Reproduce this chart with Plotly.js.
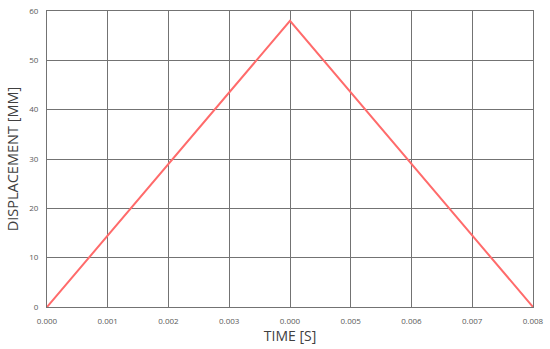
<!DOCTYPE html>
<html>
<head>
<meta charset="utf-8">
<script src="https://cdn.plot.ly/plotly-3.0.1.min.js"></script>
<style>
  html, body { margin: 0; padding: 0; background: white; }
  #chart { width: 550px; height: 349px; }
</style>
</head>
<body>
<div id="chart"></div>
<script>
// Data
const timeValues = [0, 0.004, 0.008];
const displacementValues = [0, 58, 0];

const xTickVals = [0, 0.001, 0.002, 0.003, 0.004, 0.005, 0.006, 0.007, 0.008];
const xTickText = ['0.000', '0.001', '0.002', '0.003', '0.000', '0.005', '0.006', '0.007', '0.008'];
const yTickVals = [0, 10, 20, 30, 40, 50, 60];

const colors = {
    line: '#ff6b6b',
    grid: '#737373',
    tick: '#595959',
    title: '#404040'
};

const traces = [
    {
        x: timeValues,
        y: displacementValues,
        type: 'scatter',
        mode: 'lines',
        line: { color: colors.line, width: 2 },
        hoverinfo: 'x+y'
    }
];

const layout = {
    width: 550,
    height: 349,
    margin: { l: 47, r: 17, t: 11, b: 42 },
    paper_bgcolor: 'white',
    plot_bgcolor: 'white',
    showlegend: false,
    font: { family: 'Open Sans, sans-serif' },
    xaxis: {
        range: [0, 0.008],
        tickmode: 'array',
        tickvals: xTickVals,
        ticktext: xTickText,
        tickfont: { size: 8, color: colors.tick },
        ticklabelstandoff: 6,
        showgrid: true,
        gridcolor: colors.grid,
        gridwidth: 1,
        zeroline: false,
        showline: true,
        linecolor: colors.grid,
        linewidth: 1,
        mirror: true,
        ticks: '',
        title: { text: 'TIME [S]', font: { size: 14, color: colors.title }, standoff: 4 }
    },
    yaxis: {
        range: [0, 60],
        tickmode: 'array',
        tickvals: yTickVals,
        tickfont: { size: 8, color: colors.tick },
        ticklabelstandoff: 6,
        showgrid: true,
        gridcolor: colors.grid,
        gridwidth: 1,
        zeroline: false,
        showline: true,
        linecolor: colors.grid,
        linewidth: 1,
        mirror: true,
        ticks: '',
        title: { text: 'DISPLACEMENT [MM]', font: { size: 14.5, color: colors.title }, standoff: 7 }
    }
};

Plotly.newPlot('chart', traces, layout, { displayModeBar: false, staticPlot: true });
</script>
</body>
</html>
